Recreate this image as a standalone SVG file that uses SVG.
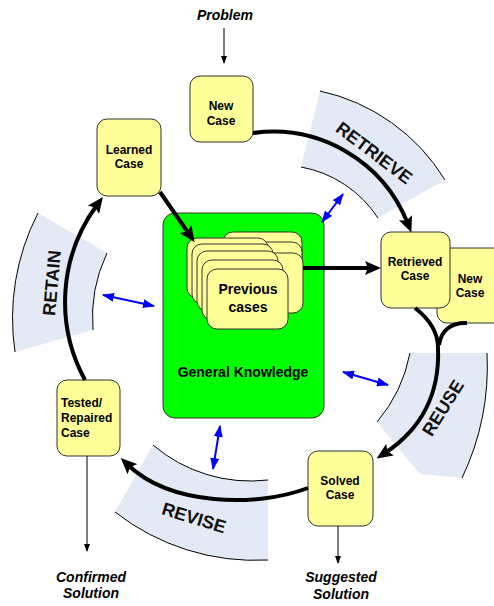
<svg xmlns="http://www.w3.org/2000/svg" width="494" height="606" viewBox="0 0 494 606">
  <style>
    .band { fill: #e4eaf5; stroke: none; }
    .bandEdge { fill: none; stroke: #000; stroke-width: 1; }
    .bandLabel { font-family: "Liberation Sans", Arial, sans-serif; font-weight: bold; font-size: 18px; fill: #111; text-anchor: middle; }
    .box { fill: #ffff99; stroke: #333; stroke-width: 1; }
    .lbl { font-family: "Liberation Sans", Arial, sans-serif; font-weight: bold; font-size: 12px; fill: #000; text-anchor: middle; }
    .left { text-anchor: start; }
    .big { font-size: 14px; }
    .io { font-family: "Liberation Sans", Arial, sans-serif; font-weight: bold; font-style: italic; font-size: 14px; fill: #000; text-anchor: middle; }
    .flow { fill: none; stroke: #000; stroke-width: 4; }
    .thin { fill: none; stroke: #000; stroke-width: 1; }
    .link { fill: none; stroke: #0000ff; stroke-width: 2; }
  </style>
  <defs>
    <marker id="head" viewBox="0 0 16 14" markerWidth="16" markerHeight="14" refX="6" refY="7" orient="auto" markerUnits="userSpaceOnUse">
      <path d="M0,0 L16,7 L0,14 L3,7 z" fill="#000"/>
    </marker>
    <marker id="small" viewBox="0 0 8 6" markerWidth="8" markerHeight="6" refX="7" refY="3" orient="auto" markerUnits="userSpaceOnUse">
      <path d="M0,0 L8,3 L0,6 z" fill="#000"/>
    </marker>
    <marker id="blue" viewBox="0 0 12 9" markerWidth="12" markerHeight="9" refX="11" refY="4.5" orient="auto-start-reverse" markerUnits="userSpaceOnUse">
      <path d="M0,0 L12,4.5 L0,9 z" fill="#0000ff"/>
    </marker>
  </defs>

  <!-- phase bands -->
  <g id="band-retrieve">
    <path class="band" d="M320,91 A195,195 0 0 1 445,180 L378,218 A117,117 0 0 0 301,167 Z"/>
    <path class="bandEdge" d="M320,91 A195,195 0 0 1 445,180"/>
    <path class="bandEdge" d="M301,167 A117,117 0 0 1 378,218"/>
    <text class="bandLabel" transform="translate(374,153) rotate(37)" y="6">RETRIEVE</text>
  </g>
  <g id="band-reuse">
    <path class="band" d="M410,353 L487,353 A260,260 0 0 1 462,478 L420,474 L377,422 A150,150 0 0 0 410,353 Z"/>
    <path class="bandEdge" d="M487,353 A260,260 0 0 1 462,478"/>
    <path class="bandEdge" d="M410,353 A150,150 0 0 1 377,422"/>
    <text class="bandLabel" transform="translate(443,408) rotate(-58)" y="6">REUSE</text>
  </g>
  <g id="band-revise">
    <path class="band" d="M153,445 A150,150 0 0 0 268,480 L268,560 A228,228 0 0 1 115,512 Z"/>
    <path class="bandEdge" d="M153,445 A150,150 0 0 0 268,480"/>
    <path class="bandEdge" d="M115,512 A228,228 0 0 0 268,560"/>
    <text class="bandLabel" transform="translate(194,518) rotate(17)" y="6">REVISE</text>
  </g>
  <g id="band-retain">
    <path class="band" d="M38,213 L107,253 A150,150 0 0 0 93,330 L15,352 A230,230 0 0 1 38,213 Z"/>
    <path class="bandEdge" d="M38,213 A230,230 0 0 0 15,352"/>
    <path class="bandEdge" d="M107,253 A150,150 0 0 0 93,330"/>
    <text class="bandLabel" transform="translate(52,283) rotate(-85)" y="6">RETAIN</text>
  </g>

  <!-- nodes -->
  <g id="problem">
    <text class="io" x="225" y="20">Problem</text>
  </g>
  <g id="new-case">
    <rect class="box" x="190" y="76" width="63" height="66" rx="10"/>
    <text class="lbl" x="221" y="110">New</text>
    <text class="lbl" x="221" y="125">Case</text>
  </g>
  <g id="learned-case">
    <rect class="box" x="97" y="119" width="64" height="77" rx="10"/>
    <text class="lbl" x="129" y="154">Learned</text>
    <text class="lbl" x="129" y="168">Case</text>
  </g>
  <g id="general-knowledge">
    <rect x="163" y="213" width="161" height="205" rx="12" fill="#00ff00" stroke="#333" stroke-width="1"/>
    <text class="lbl big" x="243" y="377">General Knowledge</text>
  </g>
  <g id="previous-cases">
    <rect class="box" x="223" y="232" width="79" height="58" rx="10"/>
    <rect class="box" x="222" y="242" width="80" height="60" rx="10"/>
    <rect class="box" x="222" y="253" width="81" height="60" rx="10"/>
    <rect class="box" x="187" y="238" width="81" height="60" rx="10"/>
    <rect class="box" x="192" y="244" width="81" height="60" rx="10"/>
    <rect class="box" x="197" y="251" width="81" height="60" rx="10"/>
    <rect class="box" x="202" y="260" width="81" height="60" rx="10"/>
    <rect class="box" x="207" y="269" width="81" height="60" rx="10"/>
    <text class="lbl big" x="248" y="294">Previous</text>
    <text class="lbl big" x="248" y="312">cases</text>
  </g>
  <g id="new-case-copy">
    <rect class="box" x="437" y="248" width="70" height="75" rx="10"/>
    <text class="lbl" x="470" y="283">New</text>
    <text class="lbl" x="470" y="297">Case</text>
  </g>
  <g id="retrieved-case">
    <rect class="box" x="381" y="232" width="69" height="76" rx="10"/>
    <text class="lbl" x="415" y="266">Retrieved</text>
    <text class="lbl" x="415" y="280">Case</text>
  </g>
  <g id="solved-case">
    <rect class="box" x="308" y="451" width="65" height="75" rx="10"/>
    <text class="lbl" x="340" y="485">Solved</text>
    <text class="lbl" x="340" y="499">Case</text>
  </g>
  <g id="tested-case">
    <rect class="box" x="57" y="380" width="63" height="76" rx="10"/>
    <text class="lbl left" x="61" y="407">Tested/</text>
    <text class="lbl left" x="61" y="422">Repaired</text>
    <text class="lbl left" x="61" y="437">Case</text>
  </g>
  <g id="suggested-solution">
    <text class="io" x="341" y="582">Suggested</text>
    <text class="io" x="341" y="599">Solution</text>
  </g>
  <g id="confirmed-solution">
    <text class="io" x="91" y="582">Confirmed</text>
    <text class="io" x="91" y="598">Solution</text>
  </g>

  <!-- connectors, drawn above the boxes -->
  <g id="connectors">
    <line class="thin" x1="224" y1="28" x2="224" y2="63" marker-end="url(#small)"/>
    <line class="thin" x1="338" y1="526" x2="338" y2="563" marker-end="url(#small)"/>
    <line class="thin" x1="87" y1="456" x2="87" y2="551" marker-end="url(#small)"/>

    <path class="flow" d="M253,133 A145,145 0 0 1 407.7,223.3" marker-end="url(#head)"/>
    <path class="flow" d="M415,308 C428,318 438,330 438,348 C440,395 420,430 385,453" marker-end="url(#head)"/>
    <path class="flow" d="M467,323 C452,322 441,330 439,345"/>
    <path class="flow" d="M308,488 C255,508 170,505 128,465" marker-end="url(#head)"/>
    <path class="flow" d="M85,380 A163,163 0 0 1 97,205" marker-end="url(#head)"/>
    <path class="flow" d="M160,192 L189,234" marker-end="url(#head)"/>
    <path class="flow" d="M303,268 L371,268" marker-end="url(#head)"/>

    <line class="link" x1="322" y1="222" x2="343" y2="194" marker-start="url(#blue)" marker-end="url(#blue)"/>
    <line class="link" x1="103" y1="295" x2="154" y2="306" marker-start="url(#blue)" marker-end="url(#blue)"/>
    <line class="link" x1="343" y1="372" x2="388" y2="385" marker-start="url(#blue)" marker-end="url(#blue)"/>
    <line class="link" x1="220" y1="426" x2="213" y2="469" marker-start="url(#blue)" marker-end="url(#blue)"/>
  </g>
</svg>
